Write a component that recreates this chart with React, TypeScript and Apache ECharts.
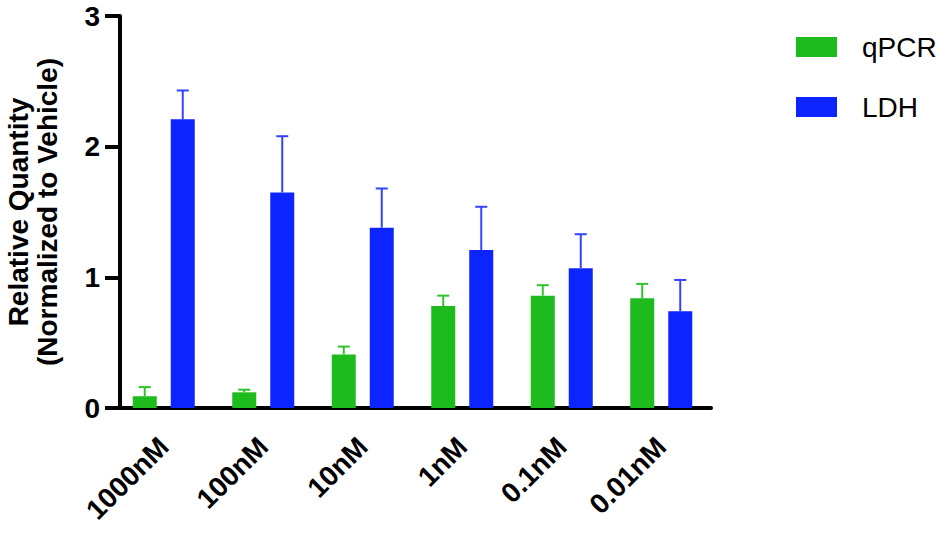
import * as echarts from 'echarts';
import { useEffect, useRef } from 'react';

// concentrations on the x axis
const categories = ['1000nM', '100nM', '10nM', '1nM', '0.1nM', '0.01nM'];

// mean values (normalized to vehicle)
const qpcrValues = [0.09, 0.12, 0.41, 0.78, 0.86, 0.84];
const ldhValues = [2.21, 1.65, 1.38, 1.21, 1.07, 0.74];

// upper error (SEM)
const qpcrErrors = [0.07, 0.02, 0.06, 0.08, 0.08, 0.11];
const ldhErrors = [0.22, 0.43, 0.3, 0.33, 0.26, 0.24];

const yTicks = { min: 0, max: 3, interval: 1 };

const GREEN = '#1dbb1d';
const BLUE = '#0c24ff';
const FONT = '"Liberation Sans", Arial, sans-serif';

const BAR_WIDTH = 24;
const BAR_GAP = 14;

const errorSeries = (name: string, values: number[], errors: number[], offset: number, color: string) => ({
  name,
  type: 'custom',
  z: 5,
  data: values.map((v, i) => [i, v, errors[i]]),
  encode: { x: 0, y: 1 },
  renderItem: (_params: any, api: any) => {
    const idx = api.value(0);
    const val = api.value(1);
    const err = api.value(2);
    const base = api.coord([idx, val]);
    const top = api.coord([idx, val + err]);
    const x = base[0] + offset;
    const style = { stroke: color, lineWidth: 2 };
    return {
      type: 'group',
      children: [
        { type: 'line', shape: { x1: x, y1: base[1], x2: x, y2: top[1] }, style },
        { type: 'line', shape: { x1: x - 6, y1: top[1], x2: x + 6, y2: top[1] }, style },
      ],
    };
  },
});

const useBarChart = () => {
  const chartRef = useRef<HTMLDivElement>(null);

  useEffect(() => {
    if (!chartRef.current) return;
    const chart = echarts.init(chartRef.current, null, { renderer: 'svg' });
    const half = (BAR_WIDTH + BAR_GAP) / 2;

    const option: echarts.EChartsOption = {
      animation: false,
      backgroundColor: '#fff',
      textStyle: { fontFamily: FONT },
      grid: { left: 114, right: 241, top: 16, bottom: 130, outerBoundsMode: 'none' } as any,
      legend: {
        data: ['qPCR', 'LDH'],
        orient: 'vertical',
        left: 796,
        top: 33,
        padding: 0,
        itemWidth: 41,
        itemHeight: 20,
        itemGap: 32,
        icon: 'rect',
        textStyle: { fontSize: 28, color: '#000', fontFamily: FONT, padding: [6, 0, 0, 20] },
      },
      xAxis: {
        type: 'category',
        data: categories,
        axisLine: { lineStyle: { color: '#000', width: 4 } },
        axisTick: { alignWithLabel: true, length: 15, lineStyle: { color: '#000', width: 4 } },
        axisLabel: {
          rotate: 45,
          margin: 34,
          color: '#000',
          fontSize: 28,
          fontWeight: 'bold',
          fontFamily: FONT,
        },
      },
      yAxis: {
        type: 'value',
        ...yTicks,
        offset: -6,
        name: 'Relative Quantity\n(Normalized to Vehicle)',
        nameLocation: 'middle',
        nameGap: 58,
        nameTextStyle: { color: '#000', fontSize: 28, fontWeight: 'bold', lineHeight: 29, fontFamily: FONT },
        axisLine: { show: true, lineStyle: { color: '#000', width: 4 } },
        axisTick: { show: true, length: 15, lineStyle: { color: '#000', width: 4 } },
        splitLine: { show: false },
        axisLabel: { margin: 20, color: '#000', fontSize: 28, fontWeight: 'bold', fontFamily: FONT },
      },
      series: [
        {
          name: 'qPCR',
          type: 'bar',
          data: qpcrValues,
          barWidth: BAR_WIDTH,
          barGap: `${(BAR_GAP / BAR_WIDTH) * 100}%`,
          itemStyle: { color: GREEN },
        },
        {
          name: 'LDH',
          type: 'bar',
          data: ldhValues,
          barWidth: BAR_WIDTH,
          barGap: `${(BAR_GAP / BAR_WIDTH) * 100}%`,
          itemStyle: { color: BLUE },
        },
        errorSeries('qPCR error', qpcrValues, qpcrErrors, -half, '#2ec42e'),
        errorSeries('LDH error', ldhValues, ldhErrors, half, '#3343ff'),
      ] as any,
    };

    chart.setOption(option);
    return () => {
      chart.dispose();
    };
  }, []);

  return { chartRef };
};

const App = () => {
  const { chartRef } = useBarChart();
  return (
    <div
      ref={chartRef}
      style={{ position: 'fixed', left: 0, top: 0, width: 952, height: 538, background: '#fff' }}
    />
  );
};

export default App;
